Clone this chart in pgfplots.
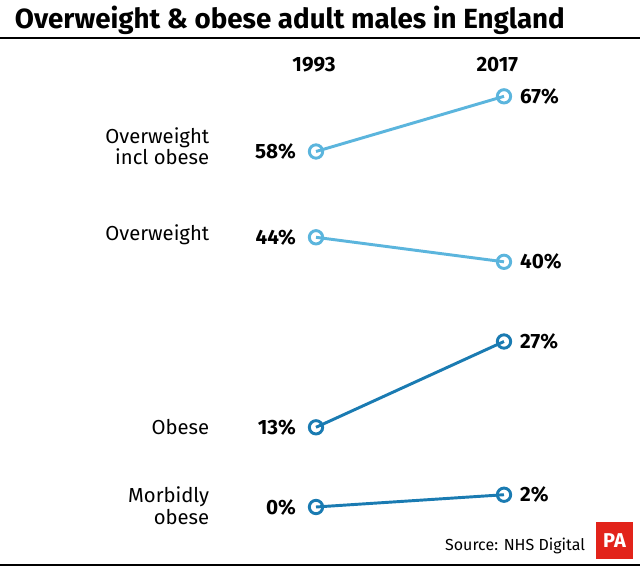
\documentclass[border=0pt]{standalone}
\usepackage{pgfplots}
\pgfplotsset{compat=1.18}
\usepackage{fontspec}
\setmainfont{Fira Sans}
\definecolor{lblue}{HTML}{5BB5DD}
\definecolor{dblue}{HTML}{1A7BB2}
\definecolor{pared}{HTML}{E2231A}
\tikzset{
  vlab/.style={font=\fontsize{15.5pt}{17pt}\selectfont\bfseries, text=black, inner sep=0},
  clab/.style={font=\fontsize{15.2pt}{16pt}\selectfont, text=black, inner sep=0, align=right, anchor=east},
}
\begin{document}
\begin{tikzpicture}
\useasboundingbox[fill=white] (0,0) rectangle (480pt,425.25pt);
% title
\node[anchor=west,font=\fontsize{20.8pt}{24pt}\selectfont\bfseries,inner sep=0] at (11pt,410pt) {Overweight \& obese adult males in England};
\draw[line width=1.5pt] (0,396.75pt) -- (480pt,396.75pt);
\draw[line width=1.5pt] (0,1.2pt) -- (480pt,1.2pt);
% source and logo
\node[anchor=east,font=\fontsize{12pt}{14pt}\selectfont,inner sep=0] at (439pt,15.75pt) {Source: NHS Digital};
\fill[pared] (447pt,6pt) rectangle (474.75pt,33.75pt);
\node[text=white,font=\fontsize{15pt}{16pt}\selectfont\bfseries,inner sep=0] at (460.9pt,19.9pt) {PA};
\begin{axis}[
  at={(237pt,45pt)}, anchor=south west,
  scale only axis, width=141pt, height=308pt,
  xmin=0, xmax=1, ymin=0, ymax=67,
  axis lines=none, clip=false,
  every axis plot/.append style={line width=2.2pt, mark=o, mark size=5pt, mark options={fill=white, line width=2.2pt}},
]
\addplot[lblue] coordinates {(0,58) (1,67)}
  node[pos=0, vlab, anchor=east, xshift=-14pt] {58\%}
  node[pos=1, vlab, anchor=west, xshift=11pt] {67\%}
  node[pos=0, clab, xshift=-79pt, yshift=4pt] {Overweight\\incl obese};
\addplot[lblue] coordinates {(0,44) (1,40)}
  node[pos=0, vlab, anchor=east, xshift=-14pt] {44\%}
  node[pos=1, vlab, anchor=west, xshift=11pt] {40\%}
  node[pos=0, clab, xshift=-79pt, yshift=2pt] {Overweight};
\addplot[dblue] coordinates {(0,13) (1,27)}
  node[pos=0, vlab, anchor=east, xshift=-14pt] {13\%}
  node[pos=1, vlab, anchor=west, xshift=11pt] {27\%}
  node[pos=0, clab, xshift=-79pt] {Obese};
\addplot[dblue] coordinates {(0,0) (1,2)}
  node[pos=0, vlab, anchor=east, xshift=-14pt] {0\%}
  node[pos=1, vlab, anchor=west, xshift=11pt] {2\%}
  node[pos=0, clab, xshift=-79pt, yshift=1pt] {Morbidly\\obese};
\end{axis}
\node[font=\fontsize{15.5pt}{17pt}\selectfont\bfseries,inner sep=0] at (235.5pt,376.5pt) {1993};
\node[font=\fontsize{15.5pt}{17pt}\selectfont\bfseries,inner sep=0] at (373pt,376.5pt) {2017};
\end{tikzpicture}
\end{document}
